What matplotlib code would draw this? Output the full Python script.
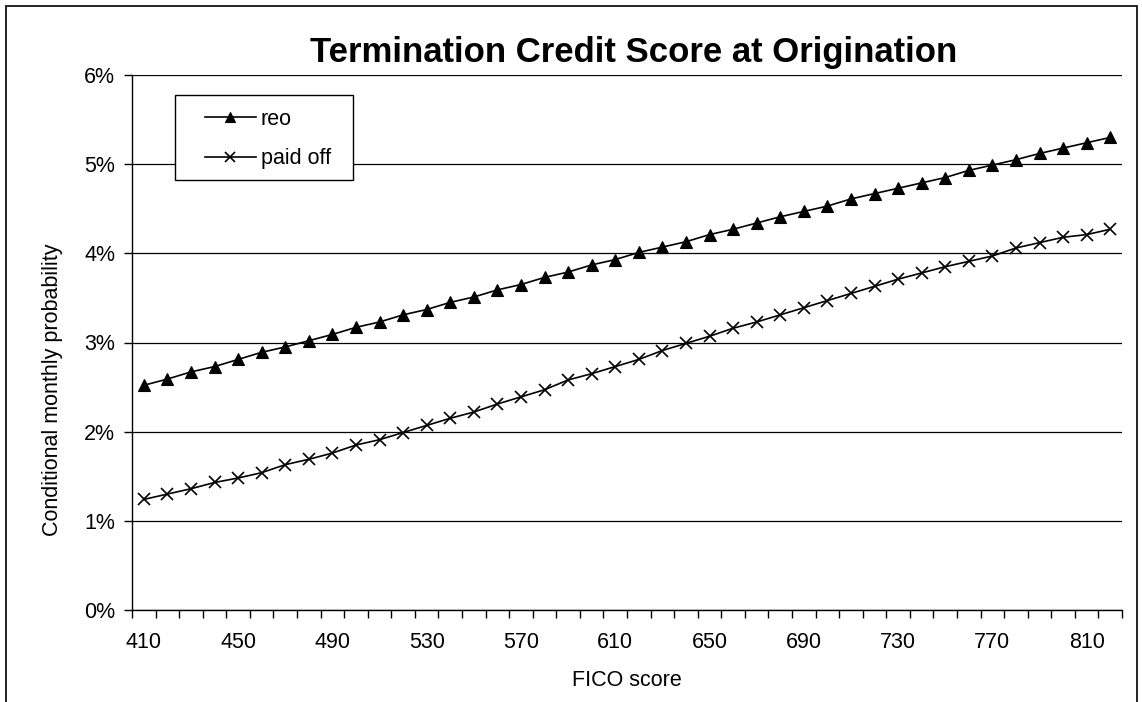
import numpy as np
import matplotlib
matplotlib.use("Agg")
import matplotlib.pyplot as plt
from matplotlib.ticker import FuncFormatter
from matplotlib.patches import Rectangle

plt.rcParams['font.family'] = ['Liberation Sans', 'DejaVu Sans']

# FICO score buckets (category axis)
fico = list(range(410, 821, 10))

# Conditional monthly probability, in percent
reo = [2.52, 2.59, 2.67, 2.73, 2.81, 2.89, 2.95, 3.02, 3.09, 3.17,
       3.23, 3.31, 3.37, 3.45, 3.51, 3.59, 3.65, 3.73, 3.79, 3.87,
       3.93, 4.01, 4.07, 4.13, 4.21, 4.27, 4.34, 4.41, 4.47, 4.53,
       4.61, 4.67, 4.73, 4.79, 4.85, 4.93, 4.99, 5.05, 5.12, 5.18,
       5.24, 5.30]
paid_off = [1.24, 1.30, 1.36, 1.43, 1.48, 1.54, 1.63, 1.69, 1.76, 1.85,
            1.91, 1.99, 2.07, 2.15, 2.22, 2.31, 2.39, 2.47, 2.58, 2.65,
            2.73, 2.81, 2.91, 2.99, 3.07, 3.16, 3.23, 3.31, 3.39, 3.47,
            3.55, 3.63, 3.71, 3.78, 3.85, 3.91, 3.97, 4.06, 4.12, 4.18,
            4.21, 4.27]
y_ticks = [0, 1, 2, 3, 4, 5, 6]

W, H = 1142, 702
fig = plt.figure(figsize=(W / 100, H / 100), dpi=100)
fig.patch.set_facecolor('white')

left, right, top, bottom = 132, 1122, 75, 610
ax = fig.add_axes([left / W, 1 - bottom / H, (right - left) / W, (bottom - top) / H])

pos = np.arange(len(fico))
ax.plot(pos, reo, color='black', lw=1.2, marker='^', ms=8.5,
        mfc='black', mec='black', mew=0.8, label='reo', zorder=3)
ax.plot(pos, paid_off, color='black', lw=1.2, marker='x', ms=9,
        mew=1.2, label='paid off', zorder=3)

ax.set_xlim(-0.5, len(fico) - 0.5)
ax.set_ylim(0, 6)

# tick marks between categories, labels every fourth category
ax.set_xticks(np.arange(-0.5, len(fico), 1))
ax.set_xticklabels([])
ax.tick_params(axis='x', which='major', length=6, width=1, direction='out', color='black')
lab_pos = pos[::4]
ax.set_xticks(lab_pos, minor=True)
ax.set_xticklabels([str(fico[i]) for i in lab_pos], minor=True, fontsize=15.5)
ax.tick_params(axis='x', which='minor', length=0, pad=16)

ax.set_yticks(y_ticks)
ax.yaxis.set_major_formatter(FuncFormatter(lambda v, p: f"{v:.0f}%"))
ax.tick_params(axis='y', length=6, width=1, direction='out', pad=6, labelsize=15.5)

ax.grid(axis='y', color='black', lw=0.9, zorder=1)
ax.set_axisbelow(True)
for s in ['top', 'right']:
    ax.spines[s].set_visible(False)
for s in ['left', 'bottom']:
    ax.spines[s].set_linewidth(1.0)
    ax.spines[s].set_color('black')

# legend box drawn in pixel coordinates of the plot area
def ax_frac(px, py):
    return (px - left) / (right - left), (bottom - py) / (bottom - top)

bx0, by0 = ax_frac(175, 180)
bx1, by1 = ax_frac(353, 95)
ax.add_patch(Rectangle((bx0, by0), bx1 - bx0, by1 - by0, transform=ax.transAxes,
                       facecolor='white', edgecolor='black', lw=1.0, zorder=4))
lx, ly = ax_frac(205, 139)
leg = ax.legend(loc='center left', bbox_to_anchor=(lx, ly), borderaxespad=0,
                frameon=False, fontsize=15.5, handlelength=2.35,
                handletextpad=0.25, labelspacing=0.85, borderpad=0,
                markerscale=0.85)
leg.set_zorder(5)

fig.text(634 / W, 1 - 62 / H, 'Termination Credit Score at Origination',
         ha='center', va='baseline', fontsize=25, fontweight='bold')
fig.text(53 / W, 1 - 390 / H, 'Conditional monthly probability',
         rotation=90, ha='center', va='center', fontsize=15.5)
fig.text(627 / W, 1 - 680 / H, 'FICO score', ha='center', va='center', fontsize=15.5)

# chart area border
fig.add_artist(Rectangle((6 / W, -0.05), (1137 - 6) / W, 1.05 - 6 / H,
                         transform=fig.transFigure, fill=False,
                         edgecolor='#222222', lw=1.4, clip_on=False))

fig.savefig('out.png', dpi=100)
